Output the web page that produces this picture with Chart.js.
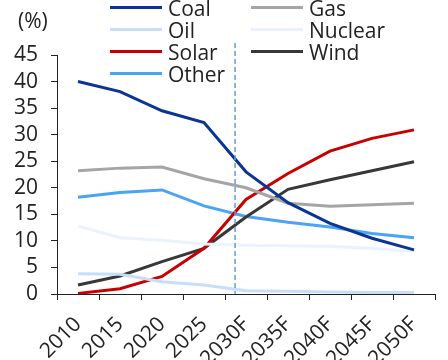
<!DOCTYPE html>
<html>
<head>
<meta charset="utf-8">
<script src="https://cdn.jsdelivr.net/npm/chart.js@4.4.0/dist/chart.umd.min.js"></script>
<style>
  html, body { margin: 0; padding: 0; background: #fff; overflow: hidden; }
  #wrap { position: relative; width: 448px; height: 360px; font-family: "Open Sans", "Noto Sans", sans-serif; color: #222; overflow: hidden; }
  #c { position: absolute; left: 0; top: 0; }
  #unit { position: absolute; left: 18px; top: 6px; font-size: 21px; line-height: 28px; }
  .lg { position: absolute; width: 140px; height: 22px; }
  .lg i { position: absolute; left: 0; top: 6px; width: 52px; height: 3px; }
  .lg span { position: absolute; left: 58px; top: -3px; font-size: 21px; line-height: 22px; white-space: nowrap; }
</style>
</head>
<body>
<div id="wrap">
  <canvas id="c" width="448" height="360"></canvas>
  <div id="unit">(%)</div>
  <div id="legend"></div>
</div>
<script>
const categories = ["2010", "2015", "2020", "2025", "2030F", "2035F", "2040F", "2045F", "2050F"];
const coal    = [40.0, 38.1, 34.5, 32.3, 23.0, 17.2, 13.3, 10.5, 8.3];
const gas     = [23.2, 23.7, 23.9, 21.7, 20.0, 17.1, 16.5, 16.8, 17.1];
const oil     = [3.8, 3.7, 2.3, 1.7, 0.6, 0.5, 0.4, 0.3, 0.3];
const nuclear = [12.8, 10.6, 10.1, 9.4, 9.2, 9.1, 9.0, 8.6, 8.0];
const solar   = [0.1, 1.0, 3.3, 8.6, 17.8, 22.7, 26.9, 29.3, 30.9];
const wind    = [1.7, 3.4, 6.1, 8.6, 14.5, 19.7, 21.5, 23.2, 24.9];
const other   = [18.2, 19.1, 19.6, 16.6, 14.6, 13.5, 12.6, 11.4, 10.6];
const yTicks  = [0, 5, 10, 15, 20, 25, 30, 35, 40, 45];
const forecastMarkerYear = 2028.7;

const series = [
  { label: "Coal", data: coal, color: "#0a3596" },
  { label: "Gas", data: gas, color: "#a5a5a5" },
  { label: "Oil", data: oil, color: "#c6def7" },
  { label: "Nuclear", data: nuclear, color: "#eaf3fd" },
  { label: "Solar", data: solar, color: "#c80000" },
  { label: "Wind", data: wind, color: "#383838" },
  { label: "Other", data: other, color: "#4aa3f5" }
];

const FONT = { family: '"Open Sans", "Noto Sans", sans-serif', size: 21 };

const markerPlugin = {
  id: 'marker',
  afterDatasetsDraw(chart) {
    const x = chart.scales.x;
    const idx = (forecastMarkerYear - 2010) / 5;
    const px = x.getPixelForValue(idx);
    const ctx = chart.ctx;
    ctx.save();
    ctx.strokeStyle = "#5f9fd8";
    ctx.lineWidth = 1.5;
    ctx.setLineDash([5, 3]);
    ctx.beginPath();
    ctx.moveTo(px, chart.chartArea.top - 12);
    ctx.lineTo(px, chart.chartArea.bottom);
    ctx.stroke();
    ctx.restore();
  }
};

const chart = new Chart(document.getElementById('c'), {
  type: 'line',
  data: {
    labels: categories,
    datasets: series.map(s => ({
      label: s.label, data: s.data, borderColor: s.color, backgroundColor: s.color,
      borderWidth: 3, pointRadius: 0, tension: 0, fill: false
    }))
  },
  options: {
    responsive: false,
    animation: false,
    events: [],
    layout: { padding: { top: 55, right: 13, left: 0, bottom: 0 } },
    plugins: { legend: { display: false }, tooltip: { enabled: false }, title: { display: false } },
    scales: {
      x: {
        type: 'category',
        offset: true,
        grid: { offset: true, drawOnChartArea: false, drawTicks: true, tickLength: 6, color: '#222', lineWidth: 1 },
        border: { display: true, color: '#222', width: 1 },
        ticks: { color: '#222', font: FONT, minRotation: 45, maxRotation: 45, padding: 12, autoSkip: false },
        afterFit(s) { s.height = 66; }
      },
      y: {
        min: 0, max: 45,
        afterBuildTicks(s) { s.ticks = yTicks.map(v => ({ value: v })); },
        grid: { drawOnChartArea: false, drawTicks: true, tickLength: 6, color: '#222', lineWidth: 1 },
        border: { display: true, color: '#222', width: 1 },
        ticks: { color: '#222', font: FONT, padding: 13, autoSkip: false, stepSize: 5 },
        afterFit(s) { s.width = 57; }
      }
    }
  },
  plugins: [markerPlugin]
});

// HTML legend in two columns built from the chart datasets
const legend = document.getElementById('legend');
chart.data.datasets.forEach((ds, i) => {
  const col = i % 2, row = Math.floor(i / 2);
  const d = document.createElement('div');
  d.className = 'lg';
  d.style.left = (col === 0 ? 110 : 251) + 'px';
  d.style.top = (row * 22) + 'px';
  d.innerHTML = '<i style="background:' + ds.borderColor + '"></i><span>' + ds.label + '</span>';
  legend.appendChild(d);
});
</script>
</body>
</html>
